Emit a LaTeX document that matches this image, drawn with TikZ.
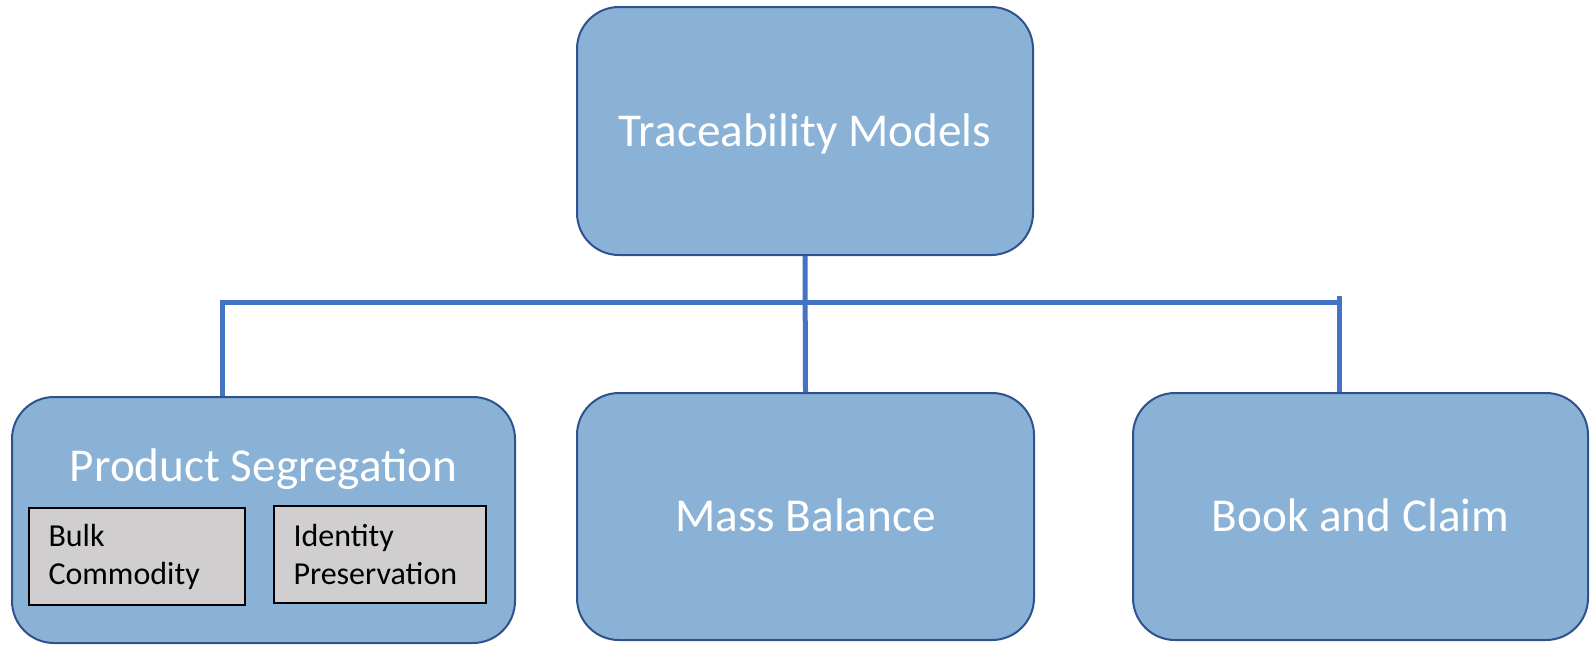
\documentclass[tikz,border=0pt]{standalone}
\usepackage{fontspec}
\setmainfont{Carlito}
\usepackage{tikz}
\usetikzlibrary{positioning}

\definecolor{boxfill}{RGB}{138,177,214}
\definecolor{boxline}{RGB}{47,82,143}
\definecolor{linkblue}{RGB}{68,114,196}
\definecolor{subfill}{RGB}{208,206,206}

\tikzset{
    model/.style={draw=boxline, line width=1pt, fill=boxfill, rounded corners=21pt,
        text=white, font=\fontsize{23.6}{28}\selectfont, inner sep=0pt,
        text height=15pt, text depth=0pt},
    subbox/.style={draw=black, line width=1pt, fill=subfill, align=left,
        text width=88pt, inner xsep=10pt, inner ysep=0pt, minimum height=48.5pt,
        font=\fontsize{16}{19}\selectfont},
    link/.style={draw=linkblue, line width=2.5pt}
}

\begin{document}
\begin{tikzpicture}[x=0.5pt, y=-0.5pt]
    \useasboundingbox (0,0) rectangle (1594,645);
    \node[model, minimum width=228pt, minimum height=124pt] (tm) at (805,131) {Traceability Models};
    \node[model, minimum width=251.5pt, minimum height=123pt] (ps) at (263.5,520) {};
    \node[model, minimum width=228.5pt, minimum height=123.5pt] (mb) at (805.5,516.5) {Mass Balance};
    \node[model, minimum width=227.5pt, minimum height=123.5pt] (bc) at (1360.5,516.5) {Book and Claim};
    \node[text=white, font=\fontsize{23.6}{28}\selectfont, text height=15pt, text depth=0pt,
        below=35pt of ps.north, anchor=center] (pstitle) {Product Segregation};
    \node[subbox] (bulk) at (136.5,556.5) {Bulk\\Commodity};
    \node[subbox, text width=86pt] (ident) at (379.5,554) {Identity\\Preservation};

    \coordinate (busL) at (222,302);
    \coordinate (busR) at (1339,302);
    \coordinate (tickR) at (1339,296);
    \draw[link] (tm.south) -- (mb.north);
    \draw[link] (busL |- ps.north) -- (busL) -- (busR);
    \draw[link] (tickR |- bc.north) -- (tickR);
\end{tikzpicture}
\end{document}
